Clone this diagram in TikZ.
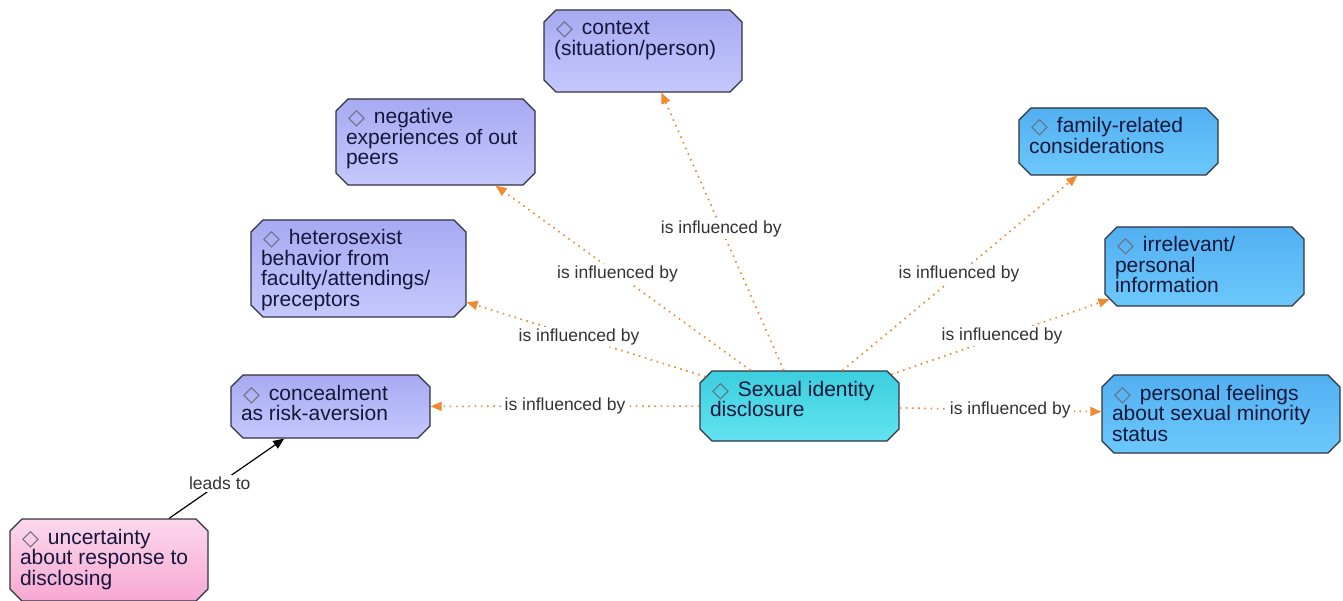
\documentclass[tikz,border=0pt]{standalone}
\usepackage{fontspec}
\setmainfont{Liberation Sans}
\newfontfamily\symfont{DejaVu Sans}
\usetikzlibrary{shapes.misc,arrows.meta}

\definecolor{purpleTop}{HTML}{A8AAF2}
\definecolor{purpleBot}{HTML}{C4C8FD}
\definecolor{cyanTop}{HTML}{3CCEDF}
\definecolor{cyanBot}{HTML}{62E4EF}
\definecolor{blueTop}{HTML}{52B0F2}
\definecolor{blueBot}{HTML}{6CC8FB}
\definecolor{pinkTop}{HTML}{FCD8EC}
\definecolor{pinkBot}{HTML}{F7A8D2}
\definecolor{borderC}{HTML}{2F3340}
\definecolor{textC}{HTML}{15173A}
\definecolor{diaC}{HTML}{6A6C80}
\definecolor{linkC}{HTML}{F08A30}
\definecolor{labC}{HTML}{333333}

% text block of a concept box: width, height, lines
\newcommand\boxtext[3]{\parbox[c][#2][t]{#1}{\raggedright\vspace*{-3pt}\rule{0pt}{16pt}#3}}
% the diamond marker in front of a concept title
\newcommand\dia{\hspace*{2pt}{\symfont\fontsize{22}{22}\selectfont\color{diaC}\raisebox{-1pt}{◇}}\hspace{9pt}}

\tikzset{
  concept/.style={chamfered rectangle, chamfered rectangle xsep=6pt,
    chamfered rectangle ysep=6pt, draw=borderC, line width=1.2pt,
    inner sep=0pt, text=textC, font=\fontsize{21}{20.5}\selectfont},
  purplebox/.style={concept, top color=purpleTop, bottom color=purpleBot},
  cyanbox/.style={concept, top color=cyanTop, bottom color=cyanBot},
  bluebox/.style={concept, top color=blueTop, bottom color=blueBot},
  pinkbox/.style={concept, top color=pinkTop, bottom color=pinkBot},
  infl/.style={draw=linkC, line width=1.7pt, dash pattern=on 1.6pt off 4.6pt,
    -{Triangle[length=11pt,width=9pt,fill=linkC]}},
  leads/.style={draw=black, line width=1.2pt, -{Triangle[length=11pt,width=9pt]}},
  lab/.style={font=\fontsize{17.5}{17.5}\selectfont, text=labC, fill=white,
    inner xsep=3pt, inner ysep=2pt}
}

\begin{document}
\begin{tikzpicture}[x=1pt,y=-1pt]
\useasboundingbox[fill=white] (0,0) rectangle (1343,601);

% concept boxes
\node[purplebox, minimum width=198pt, minimum height=82pt] (ctx) at (643,51)
  {\boxtext{178pt}{58pt}{\dia context\\(situation/person)}};
\node[purplebox, minimum width=199pt, minimum height=86pt] (neg) at (435.5,142)
  {\boxtext{179pt}{62pt}{\dia negative\\experiences of out\\peers}};
\node[purplebox, minimum width=215pt, minimum height=97pt] (het) at (358.5,268.5)
  {\boxtext{195pt}{73pt}{\dia heterosexist\\behavior from\\faculty/attendings/\\preceptors}};
\node[purplebox, minimum width=199pt, minimum height=63pt] (con) at (330.5,406.5)
  {\boxtext{179pt}{39pt}{\dia concealment\\as risk-aversion}};
\node[pinkbox, minimum width=198pt, minimum height=82pt] (unc) at (109,560)
  {\boxtext{178pt}{58pt}{\dia uncertainty\\about response to\\disclosing}};
\node[cyanbox, minimum width=199pt, minimum height=70pt] (sid) at (799.5,406)
  {\boxtext{179pt}{46pt}{\dia Sexual identity\\disclosure}};
\node[bluebox, minimum width=199pt, minimum height=67pt] (fam) at (1118.5,141.5)
  {\boxtext{179pt}{43pt}{\dia family-related\\considerations}};
\node[bluebox, minimum width=199pt, minimum height=79pt] (irr) at (1204.5,266.5)
  {\boxtext{179pt}{55pt}{\dia irrelevant/\\personal\\information}};
\node[bluebox, minimum width=238pt, minimum height=78pt] (per) at (1221,414)
  {\boxtext{218pt}{54pt}{\dia personal feelings\\about sexual minority\\status}};

% influence links
\foreach \t in {ctx,neg,het,con,fam,irr,per}
  \draw[infl] (sid) -- (\t);
\draw[leads] (unc) -- (con);

% link labels, halfway between box centres
\path (sid.center) -- node[lab] (l1) {is influenced by} (ctx.center);
\path (sid.center) -- node[lab] (l2) {is influenced by} (neg.center);
\path (sid.center) -- node[lab] (l3) {is influenced by} (het.center);
\path (sid.center) -- node[lab] (l4) {is influenced by} (con.center);
\path (sid.center) -- node[lab] (l5) {is influenced by} (fam.center);
\path (sid.center) -- node[lab] (l6) {is influenced by} (irr.center);
\path (sid.center) -- node[lab] (l7) {is influenced by} (per.center);
\path (unc.center) -- node[lab] (l8) {leads to} (con.center);
\end{tikzpicture}
\end{document}
